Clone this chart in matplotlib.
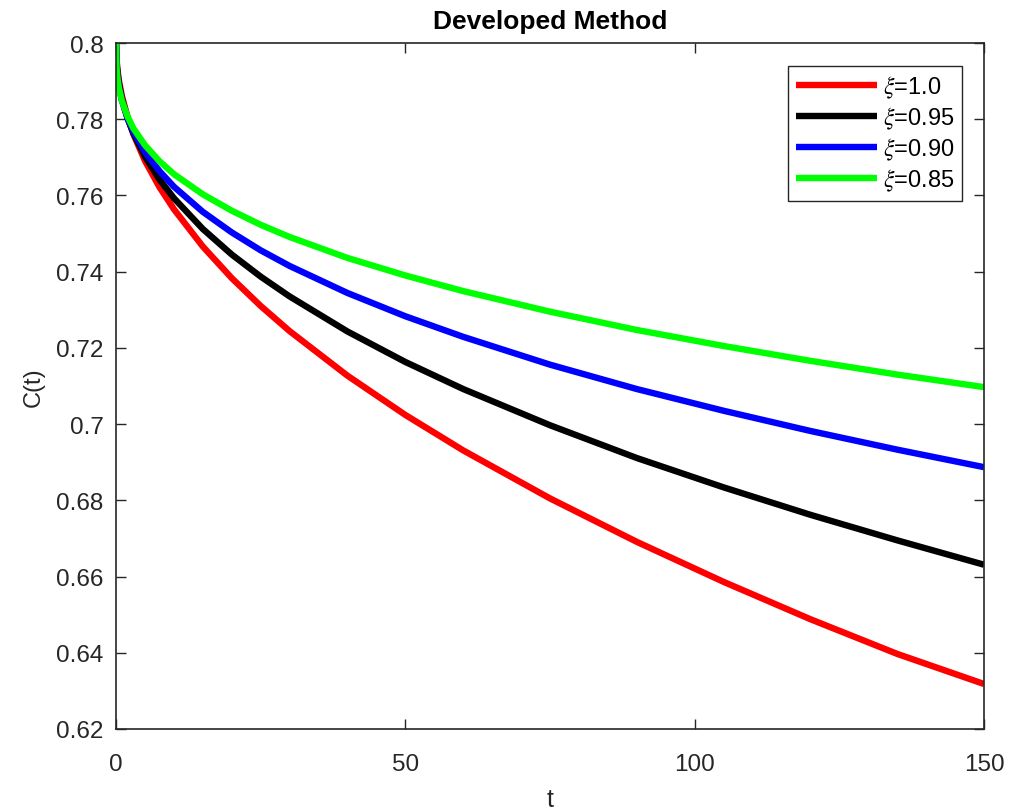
import matplotlib
matplotlib.use("Agg")
import matplotlib.pyplot as plt

plt.rcParams['font.family'] = ['Liberation Sans', 'DejaVu Sans']
plt.rcParams['mathtext.fontset'] = 'stix'

# values
t = [0, 0.1, 0.25, 0.5, 1, 2, 3, 5, 7.5, 10, 15, 20, 25, 30, 40, 50, 60,
     75, 90, 105, 120, 135, 150]
c_100 = [0.8, 0.7956, 0.7931, 0.7902, 0.7862, 0.7805, 0.7761, 0.7691, 0.7622,
         0.7564, 0.7466, 0.7383, 0.7310, 0.7244, 0.7127, 0.7024, 0.6931,
         0.6805, 0.6691, 0.6586, 0.6488, 0.6397, 0.6318]
c_095 = [0.8, 0.7948, 0.7922, 0.7894, 0.7855, 0.7802, 0.7763, 0.7702, 0.7642,
         0.7593, 0.7512, 0.7445, 0.7387, 0.7335, 0.7243, 0.7163, 0.7092,
         0.6997, 0.6911, 0.6834, 0.6762, 0.6695, 0.6631]
c_090 = [0.8, 0.7940, 0.7914, 0.7886, 0.7850, 0.7802, 0.7767, 0.7714, 0.7664,
         0.7623, 0.7557, 0.7503, 0.7456, 0.7415, 0.7344, 0.7283, 0.7229,
         0.7156, 0.7092, 0.7035, 0.6982, 0.6933, 0.6887]
c_085 = [0.8, 0.7934, 0.7908, 0.7882, 0.7849, 0.7807, 0.7776, 0.7732, 0.7690,
         0.7656, 0.7603, 0.7560, 0.7523, 0.7491, 0.7436, 0.7390, 0.7349,
         0.7295, 0.7247, 0.7205, 0.7166, 0.7130, 0.7097]

labels = [r'$\xi$=1.0', r'$\xi$=0.95', r'$\xi$=0.90', r'$\xi$=0.85']
colors = ['#ff0000', '#000000', '#0000ff', '#00ff00']
yticks = [0.62, 0.64, 0.66, 0.68, 0.70, 0.72, 0.74, 0.76, 0.78, 0.80]
ytick_labels = ['0.62', '0.64', '0.66', '0.68', '0.7', '0.72', '0.74', '0.76', '0.78', '0.8']
xticks = [0, 50, 100, 150]

fig = plt.figure(figsize=(10.24, 8.12), dpi=100)
ax = fig.add_axes([0.1133, 0.101, 0.8477, 0.8448])

for series, lab, col in zip([c_100, c_095, c_090, c_085], labels, colors):
    ax.plot(t, series, color=col, linewidth=4.6, label=lab, solid_capstyle='butt')

ax.set_xlim(0, 150)
ax.set_ylim(0.62, 0.8)
ax.set_xticks(xticks)
ax.set_xticklabels([str(x) for x in xticks])
ax.set_yticks(yticks)
ax.set_yticklabels(ytick_labels)

axis_col = '#262626'
for sp in ax.spines.values():
    sp.set_color(axis_col)
    sp.set_linewidth(1.2)
ax.tick_params(direction='in', length=7, width=1.0, color=axis_col,
               labelcolor=axis_col, labelsize=17.5, top=True, right=True)
ax.tick_params(axis='x', pad=17)
ax.tick_params(axis='y', pad=9)

ax.set_title('Developed Method', fontsize=19, fontweight='bold', pad=11)
ax.set_xlabel('t', fontsize=18, color=axis_col, labelpad=9)
ax.set_ylabel('C(t)', fontsize=17, color=axis_col, labelpad=8)

leg = ax.legend(loc='upper right', fontsize=17, frameon=True, fancybox=False,
                handlelength=3.4, handletextpad=0.25, borderpad=0.35,
                labelspacing=0.2, bbox_to_anchor=(0.975, 0.967),
                borderaxespad=0)
leg.get_frame().set_edgecolor(axis_col)
leg.get_frame().set_linewidth(1.0)
leg.get_frame().set_alpha(1)

fig.savefig('out.png', dpi=100)
